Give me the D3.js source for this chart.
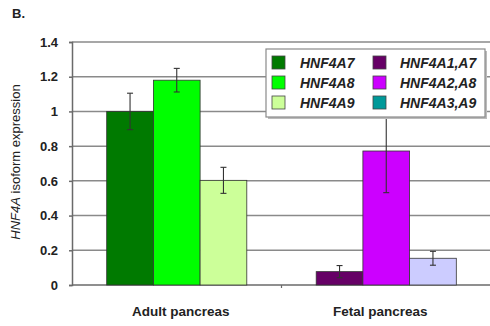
<!DOCTYPE html>
<html>
<head>
<meta charset="utf-8">
<script src="https://cdn.jsdelivr.net/npm/d3@7"></script>
<style>
  html, body { margin: 0; padding: 0; background: #fff; }
  svg { display: block; font-family: Arial, "Liberation Sans", sans-serif; }
</style>
</head>
<body>
<svg id="chart" width="490" height="326"></svg>
<script>
// Tissues on the x axis
const categories = ["Adult pancreas", "Fetal pancreas"];

// Isoform groups plotted within each tissue
const adultIsoforms = ["HNF4A7", "HNF4A8", "HNF4A9"];
const fetalIsoforms = ["HNF4A1,A7", "HNF4A2,A8", "HNF4A3,A9"];

// Relative expression and error for each bar
const adultValues = [1.0, 1.18, 0.603];
const adultErrors = [0.105, 0.068, 0.075];
const fetalValues = [0.077, 0.772, 0.154];
const fetalErrors = [0.035, 0.24, 0.04];

// Bar fills
const adultFills = ["#007a00", "#00ff00", "#ccff99"];
const fetalFills = ["#660066", "#cc00ff", "#ccccff"];
const fetalLegendFills = ["#660066", "#cc00ff", "#009999"];

// Y axis ticks
const yTicks = [0, 0.2, 0.4, 0.6, 0.8, 1, 1.2, 1.4];

const svg = d3.select("#chart");
const plotLeft = 72, plotRight = 491, plotTop = 42, plotBottom = 285;

const x0 = d3.scaleBand().domain(categories).range([plotLeft, plotRight]).padding(0);
const x1 = d3.scaleBand().domain([0, 1, 2]).range([0, x0.bandwidth()])
  .paddingInner(0).paddingOuter(0.743);
const y = d3.scaleLinear().domain([0, 1.4]).range([plotBottom, plotTop]);

// Horizontal gridlines
svg.append("g").selectAll("line").data(yTicks.slice(1)).join("line")
  .attr("x1", plotLeft).attr("x2", plotRight)
  .attr("y1", d => y(d)).attr("y2", d => y(d))
  .attr("stroke", "#8a8a8a").attr("stroke-width", 1.5);

// Y axis with ticks and labels
const yAxis = d3.axisLeft(y).tickValues(yTicks).tickSize(3).tickPadding(11)
  .tickFormat(d => d3.format("~g")(d));
const gy = svg.append("g").attr("transform", `translate(${plotLeft},0)`).call(yAxis);
gy.select(".domain").attr("stroke", "#6a6a6a").attr("stroke-width", 1.5);
gy.selectAll(".tick line").attr("stroke", "#6a6a6a").attr("stroke-width", 1.5);
gy.selectAll(".tick text").attr("font-size", 13).attr("font-weight", "bold")
  .attr("fill", "#222").attr("font-family", "Arial, 'Liberation Sans', sans-serif");

// X axis baseline with a divider tick between groups
svg.append("line").attr("x1", plotLeft).attr("x2", plotRight)
  .attr("y1", y(0)).attr("y2", y(0)).attr("stroke", "#6a6a6a").attr("stroke-width", 1.5);
svg.append("line").attr("x1", x0(categories[1])).attr("x2", x0(categories[1]))
  .attr("y1", y(0)).attr("y2", y(0) + 3).attr("stroke", "#6a6a6a").attr("stroke-width", 1.2);

// Category labels
svg.append("g").selectAll("text").data(categories).join("text")
  .attr("x", (d, i) => x0(d) + x0.bandwidth() / 2 + (i === 0 ? 4 : -6))
  .attr("y", 316)
  .attr("text-anchor", "middle").attr("font-size", 13.5).attr("font-weight", "bold")
  .attr("fill", "#222").text(d => d);

// Bars and error bars
const groups = [
  { cat: categories[0], values: adultValues, errors: adultErrors, fills: adultFills },
  { cat: categories[1], values: fetalValues, errors: fetalErrors, fills: fetalFills }
];

groups.forEach(gr => {
  const g = svg.append("g").attr("transform", `translate(${x0(gr.cat)},0)`);
  const rows = gr.values.map((v, i) => ({ i, v, e: gr.errors[i], fill: gr.fills[i] }));
  g.selectAll("rect").data(rows).join("rect")
    .attr("x", d => x1(d.i)).attr("width", x1.bandwidth())
    .attr("y", d => y(d.v)).attr("height", d => y(0) - y(d.v))
    .attr("fill", d => d.fill).attr("stroke", "#333").attr("stroke-width", 0.8);
  const eb = g.selectAll("g.err").data(rows).join("g").attr("class", "err");
  eb.append("line")
    .attr("x1", d => x1(d.i) + x1.bandwidth() / 2).attr("x2", d => x1(d.i) + x1.bandwidth() / 2)
    .attr("y1", d => y(d.v + d.e)).attr("y2", d => y(d.v - d.e));
  eb.append("line")
    .attr("x1", d => x1(d.i) + x1.bandwidth() / 2 - 3).attr("x2", d => x1(d.i) + x1.bandwidth() / 2 + 3)
    .attr("y1", d => y(d.v + d.e)).attr("y2", d => y(d.v + d.e));
  eb.append("line")
    .attr("x1", d => x1(d.i) + x1.bandwidth() / 2 - 3).attr("x2", d => x1(d.i) + x1.bandwidth() / 2 + 3)
    .attr("y1", d => y(d.v - d.e)).attr("y2", d => y(d.v - d.e));
  eb.selectAll("line").attr("stroke", "#333").attr("stroke-width", 1.1);
});

// Legend box
const legX = 266, legY = 49, legW = 219, legH = 68;
svg.append("rect").attr("x", legX + 2).attr("y", legY + 2).attr("width", legW).attr("height", legH)
  .attr("fill", "#bbb");
svg.append("rect").attr("x", legX).attr("y", legY).attr("width", legW).attr("height", legH)
  .attr("fill", "#fff").attr("stroke", "#8a8a8a").attr("stroke-width", 1.2);

const legendCols = [
  { names: adultIsoforms, fills: adultFills, sx: 272, tx: 300 },
  { names: fetalIsoforms, fills: fetalLegendFills, sx: 373, tx: 400 }
];
legendCols.forEach(col => {
  const lg = svg.append("g");
  const items = col.names.map((n, i) => ({ n, i, fill: col.fills[i] }));
  lg.selectAll("rect").data(items).join("rect")
    .attr("x", col.sx).attr("y", d => 56 + d.i * 20).attr("width", 13).attr("height", 13)
    .attr("fill", d => d.fill).attr("stroke", "#444").attr("stroke-width", 0.8);
  lg.selectAll("text").data(items).join("text")
    .attr("x", col.tx).attr("y", d => 68 + d.i * 20)
    .attr("font-size", 14).attr("font-weight", "bold").attr("font-style", "italic")
    .attr("fill", "#222").text(d => d.n);
});

// Y axis title
const yTitle = svg.append("text")
  .attr("transform", "translate(20,162) rotate(-90)")
  .attr("text-anchor", "middle").attr("font-size", 13).attr("fill", "#222");
yTitle.append("tspan").attr("font-style", "italic").text("HNF4A");
yTitle.append("tspan").text(" isoform expression");

// Panel label
svg.append("text").attr("x", 12).attr("y", 18).attr("font-size", 13)
  .attr("font-weight", "bold").attr("fill", "#222").text("B.");
</script>
</body>
</html>
